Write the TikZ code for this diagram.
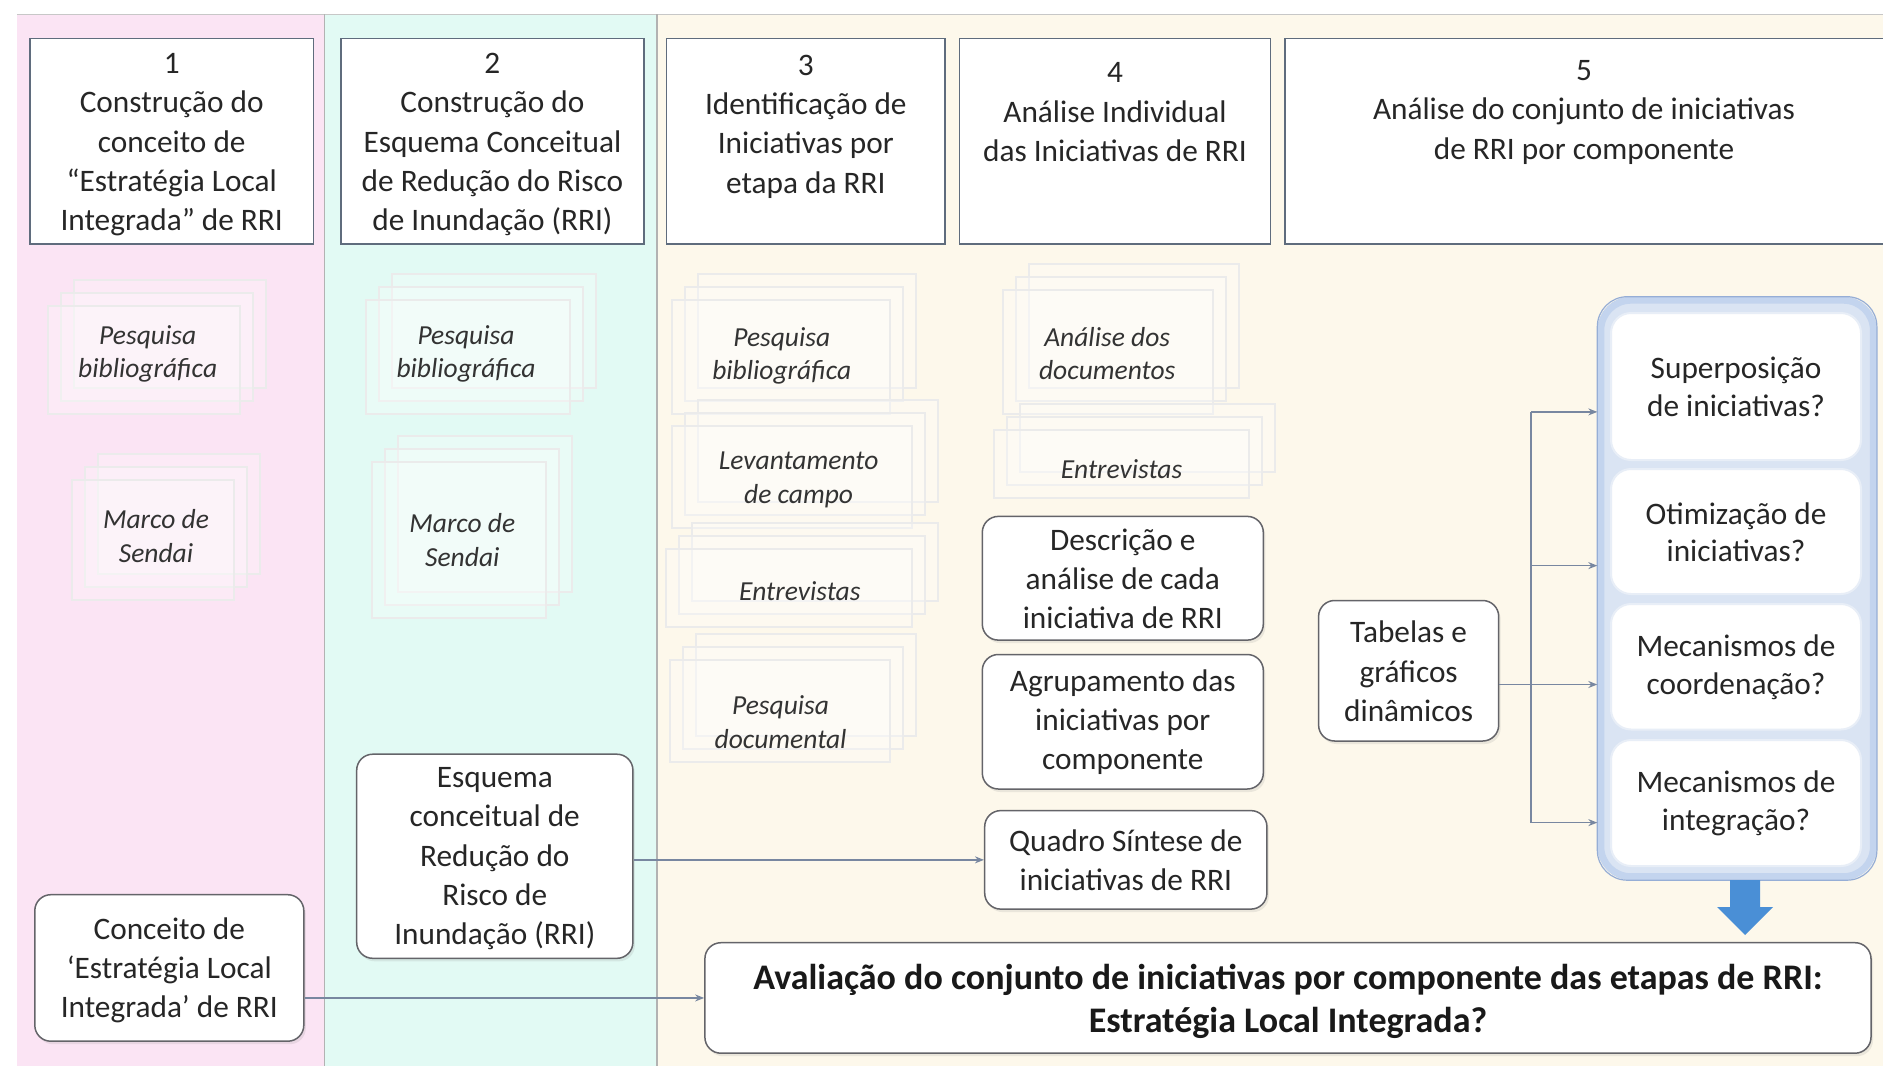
\documentclass[tikz,border=0pt]{standalone}
\usepackage{fontspec}
\setmainfont{Carlito}
\usetikzlibrary{arrows.meta,fit,shadows}
\definecolor{pinkbg}{RGB}{251,228,244}
\definecolor{cyanbg}{RGB}{226,250,244}
\definecolor{creambg}{RGB}{253,248,235}
\definecolor{hdrline}{RGB}{95,108,125}
\definecolor{boxline}{RGB}{100,100,105}
\definecolor{connc}{RGB}{120,135,160}
\definecolor{contfill}{RGB}{218,228,243}
\definecolor{contline}{RGB}{195,212,238}
\definecolor{contedge}{RGB}{150,174,214}
\definecolor{bluearrow}{RGB}{74,143,214}
\definecolor{innerline}{RGB}{232,238,247}
\newcommand{\txtreg}{\fontsize{31.3}{39.3}\selectfont}
\newcommand{\txtinner}{\fontsize{31.3}{37.5}\selectfont}
\newcommand{\txtital}{\fontsize{27.5}{33.5}\selectfont\itshape}
\newcommand{\txtbold}{\fontsize{36}{43}\selectfont\bfseries}
\newcommand{\ghoststack}[4]{%
  \foreach \k in {2,1,0} {
    \draw[black!8, line width=2.5pt, fill=white, fill opacity=0.25]
      (#1+\k*13, #2-\k*13) rectangle (#3+\k*13, #4-\k*13);
  }}
\tikzset{
  hdrbox/.style={draw=hdrline, line width=1.6pt, fill=white, inner sep=0pt},
  htext/.style={align=center, font=\txtreg, inner sep=0pt, text=black!85, yshift=-3.6pt},
  btext/.style={align=center, font=\txtreg, inner sep=0pt, text=black!85, yshift=-0.5pt},
  itext/.style={align=center, font=\txtinner, inner sep=0pt, text=black!85, yshift=-0.5pt},
  bbtext/.style={align=center, font=\txtbold, inner sep=0pt, text=black!90, yshift=-3pt},
  gtext/.style={align=center, font=\txtital, inner sep=0pt, text=black!80, yshift=-3pt},
  rbox/.style={draw=boxline, line width=1.5pt, fill=white, rounded corners=16pt,
    inner sep=0pt, drop shadow={shadow xshift=2pt, shadow yshift=-3pt, opacity=0.15}},
  qbox/.style={draw=innerline, line width=2pt, fill=white, rounded corners=20pt, inner sep=0pt},
  connl/.style={draw=connc, line width=1.3pt},
  conna/.style={connl, -{Stealth[length=9pt,width=7pt]}},
}
\begin{document}
\begin{tikzpicture}[x=1pt,y=-1pt]
\useasboundingbox (0,0) rectangle (1883,1069);
% background columns
\fill[pinkbg] (16.8,14.4) rectangle (324.2,1066);
\fill[cyanbg] (324.2,14.4) rectangle (656.9,1066);
\fill[creambg] (656.9,14.4) rectangle (1883,1066);
\draw[black!22, line width=1.5pt] (16.8,14.4) -- (1883,14.4);
\draw[black!30, line width=1.2pt] (324.2,14.4) -- (324.2,1066);
\draw[black!30, line width=1.2pt] (656.9,14.4) -- (656.9,1066);

% header boxes
\node[hdrbox, fit={(30,38.4) (313.4,243.8)}] (h1) {};
\node[hdrbox, fit={(341,38.4) (643.7,243.8)}] (h2) {};
\node[hdrbox, fit={(666.5,38.4) (945.1,243.8)}] (h3) {};
\node[hdrbox, fit={(959.5,38.4) (1270.6,243.8)}] (h4) {};
\node[hdrbox, fit={(1285,38.4) (1892,243.8)}] (h5) {};
\node[htext] (t1) at (171.7,141.1) {1\\Construção do\\conceito de\\“Estratégia Local\\Integrada” de RRI};
\node[htext] (t2) at (492.4,141.1) {2\\Construção do\\Esquema Conceitual\\de Redução do Risco\\de Inundação (RRI)};
\node[htext] (t3) at (805.8,123.1) {3\\Identificação de\\Iniciativas por\\etapa da RRI};
\node[htext] (t4) at (1115,108.7) {4\\Análise Individual\\das Iniciativas de RRI};
\node[htext] (t5) at (1584,108.7) {5\\Análise do conjunto de iniciativas\\de RRI por componente};

% ghost stacks
\ghoststack{48}{306}{240}{414}
\ghoststack{72}{480}{234}{600}
\ghoststack{366}{300}{570}{414}
\ghoststack{372}{462}{546}{618}
\ghoststack{672}{300}{890}{414}
\ghoststack{672}{426}{912}{528}
\ghoststack{666}{549}{912}{627}
\ghoststack{670}{660}{890}{762}
\ghoststack{1003}{290}{1213}{414}
\ghoststack{994}{430}{1249}{498}
\node[gtext] (g1a) at (147.7,350.7) {Pesquisa\\bibliográfica};
\node[gtext] (g1b) at (156,533) {Marco de\\Sendai};
\node[gtext] (g2a) at (466,350.7) {Pesquisa\\bibliográfica};
\node[gtext] (g2b) at (462.3,536.8) {Marco de\\Sendai};
\node[gtext] (g3a) at (781.8,353) {Pesquisa\\bibliográfica};
\node[gtext] (g3b) at (798.6,476.8) {Levantamento\\de campo};
\node[gtext] (g3c) at (799.8,588.4) {Entrevistas};
\node[gtext] (g3d) at (780.6,719.3) {Pesquisa\\documental};
\node[gtext] (g4a) at (1107.2,350.7) {Análise dos\\documentos};
\node[gtext] (g4b) at (1121.6,466) {Entrevistas};

% rounded boxes
\node[rbox, fit={(982.3,516.4) (1263.3,640.1)}] (desc) {};
\node[btext] (desc-t) at (desc.center) {Descrição e\\análise de cada\\iniciativa de RRI};
\node[rbox, fit={(982.3,654.5) (1263.3,789)}] (agrup) {};
\node[btext] (agrup-t) at (agrup.center) {Agrupamento das\\iniciativas por\\componente};
\node[rbox, fit={(984.7,810.6) (1266.9,909.1)}] (quadro) {};
\node[btext] (quadro-t) at (quadro.center) {Quadro Síntese de\\iniciativas de RRI};
\node[rbox, fit={(1318.6,600.5) (1498.7,741)}] (tabelas) {};
\node[btext] (tabelas-t) at (tabelas.center) {Tabelas e\\gráficos\\dinâmicos};
\node[rbox, fit={(356.7,754.2) (632.9,958.3)}] (esquema) {};
\node[btext, yshift=-2pt] (esquema-t) at (esquema.center) {Esquema\\conceitual de\\Redução do\\Risco de\\Inundação (RRI)};
\node[rbox, fit={(34.8,894.7) (303.8,1041.2)}] (conceito) {};
\node[btext, yshift=-2pt] (conceito-t) at (conceito.center) {Conceito de\\‘Estratégia Local\\Integrada’ de RRI};
\node[rbox, fit={(704.9,942.7) (1871,1053.2)}] (final) {};
\node[bbtext] (final-t) at (final.center) {Avaliação do conjunto de iniciativas por componente das etapas de RRI:\\Estratégia Local Integrada?};

% container
\node[draw=contline, line width=7pt, fill=contfill, rounded corners=30pt, inner sep=0pt,
      fit={(1600.8,300.2) (1873.4,876.7)}] (cont) {};
\draw[contedge, line width=1.2pt, rounded corners=30pt] (cont.south west) rectangle (cont.north east);
\node[qbox, fit={(1611,313) (1861,460)}] (sup) {};
\node[itext] (sup-t) at (sup.center) {Superposição\\de iniciativas?};
\node[qbox, fit={(1611,469) (1861,594)}] (oti) {};
\node[itext] (oti-t) at (oti.center) {Otimização de\\iniciativas?};
\node[qbox, fit={(1611,604) (1861,729.5)}] (coord) {};
\node[itext] (coord-t) at (coord.center) {Mecanismos de\\coordenação?};
\node[qbox, fit={(1611,740) (1861,866)}] (integ) {};
\node[itext] (integ-t) at (integ.center) {Mecanismos de\\integração?};

% blue arrow
\fill[bluearrow] (1730,880) -- (1760,880) -- (1760,907) -- (1773,907) -- (1745,935)
  -- (1717,907) -- (1730,907) -- cycle;

% connectors
\coordinate (j0) at (1531.1,411.9);
\coordinate (j1) at (1531.1,565.6);
\coordinate (j2) at (1531.1,684.5);
\coordinate (j3) at (1531.1,822.6);
\draw[connl] (tabelas.east |- j2) -- (j2);
\draw[connl] (j0) -- (j3);
\draw[conna] (j0) -- (j0 -| cont.west);
\draw[conna] (j1) -- (j1 -| cont.west);
\draw[conna] (j2) -- (j2 -| cont.west);
\draw[conna] (j3) -- (j3 -| cont.west);
\draw[conna] (esquema.east |- quadro.west) -- (quadro.west);
\draw[conna] (conceito.east |- final.west) -- (final.west);
\end{tikzpicture}
\end{document}
